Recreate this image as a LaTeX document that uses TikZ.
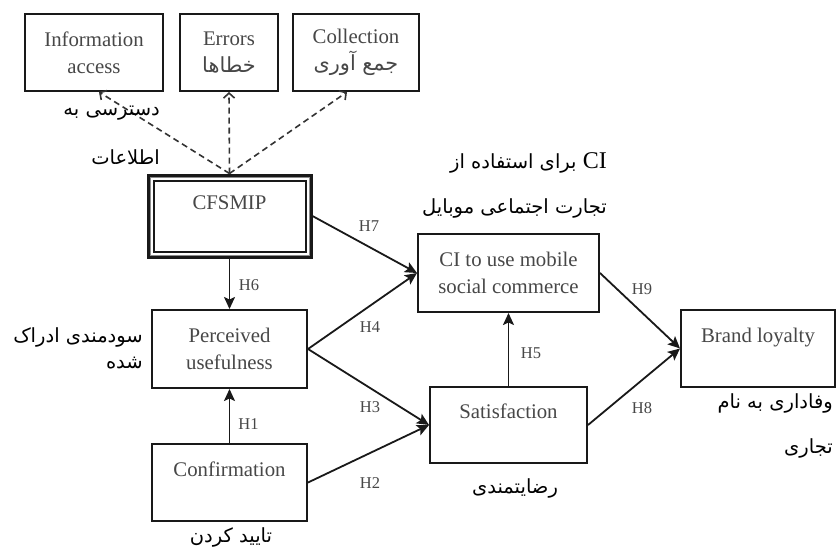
\documentclass[tikz,border=0pt]{standalone}
\usepackage{fontspec}
\setmainfont{Liberation Serif}
\newfontfamily\arabicfont[Script=Arabic]{DejaVu Sans}
\TeXXeTstate=1
\usetikzlibrary{arrows.meta,calc}
\tikzset{
  box/.style={draw=black!90, line width=2pt, inner sep=0pt, align=center,
    text=black!72, font=\fontsize{20.8}{27}\selectfont},
  fa/.style={font=\arabicfont\fontsize{19.5}{24}\selectfont, text=black, inner sep=0pt},
  hl/.style={font=\fontsize{16.5}{18}\selectfont, text=black!72, inner sep=0pt},
  arr/.style={draw=black!90, line width=1.8pt, -{Stealth[length=12pt,width=11pt,inset=2.5pt]}},
  darr/.style={draw=black!80, line width=1.6pt, dash pattern=on 6pt off 4pt,
    -{Straight Barb[length=5pt,width=11pt,line width=1.6pt]}}
}
\newcommand{\fa}[1]{{\arabicfont\beginR #1\endR}}
\begin{document}
\begin{tikzpicture}[x=1pt,y=-1pt]
\useasboundingbox (0,0) rectangle (838,552);
\fill[white] (0,0) rectangle (838,552);

% top boxes
\node[box, minimum width=138pt, minimum height=77pt] (info) at (94,52.5) {Information\\access};
\node[box, minimum width=98pt, minimum height=77pt] (err) at (229,52.5) {Errors\\\fa{خطاها}};
\node[box, minimum width=126pt, minimum height=77pt] (coll) at (356,52.5) {Collection\\\fa{جمع آوری}};

% CFSMIP triple border
\node[box, line width=3pt, minimum width=163pt, minimum height=82pt] (cf) at (229.5,216) {CFSMIP\\\mbox{}};
\draw[black!45, line width=1pt] ($(cf.north west)+(3.5,3.5)$) rectangle ($(cf.south east)+(-3.5,-3.5)$);
\draw[black!90, line width=2pt] ($(cf.north west)+(7,7)$) rectangle ($(cf.south east)+(-7,-7)$);

% main boxes
\node[box, minimum width=155pt, minimum height=78pt] (pu) at (229.5,349) {Perceived\\usefulness};
\node[box, minimum width=155pt, minimum height=77pt] (conf) at (229.5,482.5) {Confirmation\\\mbox{}};
\node[box, minimum width=157pt, minimum height=76pt] (sat) at (508.5,425) {Satisfaction\\\mbox{}};
\node[box, minimum width=181pt, minimum height=78pt] (ci) at (508.5,273) {CI to use mobile\\social commerce};
\node[box, minimum width=154pt, minimum height=77pt] (brand) at (758,348.5) {Brand loyalty\\\mbox{}};

% dashed arrows
\draw[darr] (cf.north) -- ($(info.south)+(5,0)$);
\draw[darr] (cf.north) -- (err.south);
\draw[darr] (cf.north) -- ($(coll.south)+(-9,0)$);

% solid arrows
\draw[arr] (cf.south) -- (pu.north);
\draw[arr] (conf.north) -- (pu.south);
\draw[arr] (cf.east) -- (ci.west);
\draw[arr] (pu.east) -- (ci.west);
\draw[arr] (pu.east) -- (sat.west);
\draw[arr] (conf.east) -- (sat.west);
\draw[arr] (sat.north) -- (ci.south);
\draw[arr] (ci.east) -- (brand.west);
\draw[arr] (sat.east) -- (brand.west);

% hypothesis labels
\node[hl] (h1) at (248.5,424) {H1};
\node[hl] (h2) at (370,483) {H2};
\node[hl] (h3) at (370,407) {H3};
\node[hl] (h4) at (370,327) {H4};
\node[hl] (h5) at (531,353) {H5};
\node[hl] (h6) at (249,285) {H6};
\node[hl] (h7) at (369,226) {H7};
\node[hl] (h8) at (642,408) {H8};
\node[hl] (h9) at (642,289) {H9};

% Persian labels
\node[fa, anchor=east] (fa1) at (160,113) {\fa{دسترسی به}};
\node[fa, anchor=east] (fa2) at (160,157) {\fa{اطلاعات}};
\node[fa, anchor=east] (fa3) at (607,163) {\fa{برای استفاده از}\ {\rmfamily\fontsize{24}{26}\selectfont CI}};
\node[fa, anchor=east] (fa4) at (607,208) {\fa{تجارت اجتماعی موبایل}};
\node[fa, anchor=east] (fa5) at (143,337) {\fa{سودمندی ادراک}};
\node[fa, anchor=east] (fa6) at (143,363) {\fa{شده}};
\node[fa] (fa7) at (231,537) {\fa{تایید کردن}};
\node[fa] (fa8) at (515,488) {\fa{رضایتمندی}};
\node[fa, anchor=east] (fa9) at (833,403) {\fa{وفاداری به نام}};
\node[fa, anchor=east] (fa10) at (833,448) {\fa{تجاری}};
\end{tikzpicture}
\end{document}
